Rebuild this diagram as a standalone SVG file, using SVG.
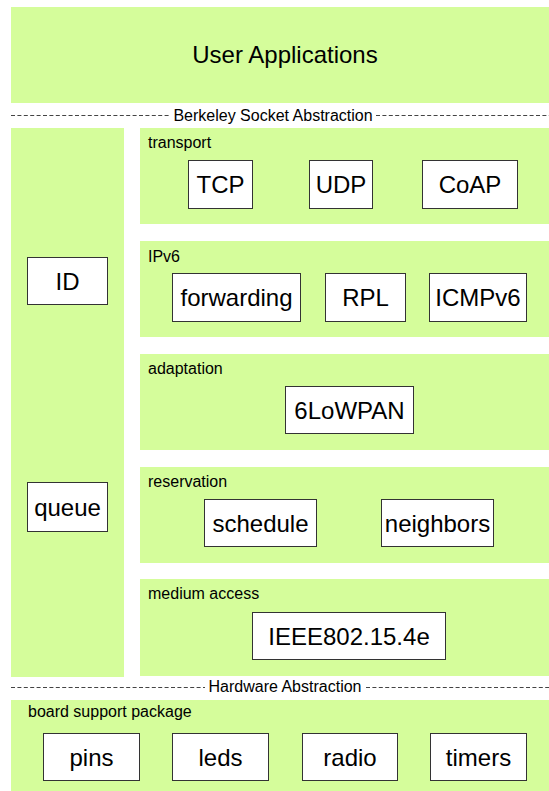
<svg xmlns="http://www.w3.org/2000/svg" width="549" height="791" viewBox="0 0 549 791">
<style>
.panel{fill:#d5fd9b;stroke:none}
.box{fill:#ffffff;stroke:#333333;stroke-width:1}
.bt{font-family:"Liberation Sans",Arial,sans-serif;font-size:24px;fill:#000;text-anchor:middle}
.lbl{font-family:"Liberation Sans",Arial,sans-serif;font-size:16px;fill:#000}
.dash{stroke:#444444;stroke-width:1;stroke-dasharray:4,2.4;fill:none}
.sep{font-family:"Liberation Sans",Arial,sans-serif;font-size:16px;fill:#000;text-anchor:middle}
</style>
<rect x="0" y="0" width="549" height="791" fill="#ffffff"/>
<g id="apps"><rect class="panel" x="11" y="7" width="538" height="96"/><text class="bt" x="285" y="63">User Applications</text></g>
<g id="connectors">
<line class="dash" x1="11" y1="115.5" x2="170" y2="115.5"/>
<line class="dash" x1="376" y1="115.5" x2="549" y2="115.5"/>
<line class="dash" x1="11" y1="687.5" x2="205" y2="687.5"/>
<line class="dash" x1="366" y1="687.5" x2="549" y2="687.5"/>
</g>
<g id="berkeley"><text class="sep" x="273" y="121">Berkeley Socket Abstraction</text></g>
<g id="hardware"><text class="sep" x="285" y="692">Hardware Abstraction</text></g>
<g id="leftcol"><rect class="panel" x="11" y="128" width="113" height="549"/></g>
<g id="id"><rect class="box" x="27.5" y="257.5" width="80" height="47"/><text class="bt" x="67.5" y="289.5">ID</text></g>
<g id="queue"><rect class="box" x="27.5" y="482.5" width="80" height="49"/><text class="bt" x="67.5" y="515.5">queue</text></g>
<g id="transport"><rect class="panel" x="140" y="128" width="409" height="96"/><text class="lbl" x="148" y="148">transport</text></g>
<g id="tcp"><rect class="box" x="188.5" y="160.5" width="64" height="48"/><text class="bt" x="220.5" y="193">TCP</text></g>
<g id="udp"><rect class="box" x="309.5" y="160.5" width="63" height="48"/><text class="bt" x="341" y="193">UDP</text></g>
<g id="coap"><rect class="box" x="422.5" y="160.5" width="95" height="48"/><text class="bt" x="470" y="193">CoAP</text></g>
<g id="ipv6"><rect class="panel" x="140" y="241" width="409" height="96"/><text class="lbl" x="148" y="262">IPv6</text></g>
<g id="forwarding"><rect class="box" x="172.5" y="273.5" width="128" height="48"/><text class="bt" x="236.5" y="306">forwarding</text></g>
<g id="rpl"><rect class="box" x="325.5" y="273.5" width="80" height="48"/><text class="bt" x="365.5" y="306">RPL</text></g>
<g id="icmpv6"><rect class="box" x="429.5" y="273.5" width="97" height="48"/><text class="bt" x="478" y="306">ICMPv6</text></g>
<g id="adaptation"><rect class="panel" x="140" y="354" width="409" height="96"/><text class="lbl" x="148" y="374">adaptation</text></g>
<g id="sixlowpan"><rect class="box" x="285.5" y="386.5" width="128" height="47"/><text class="bt" x="349.5" y="418.5">6LoWPAN</text></g>
<g id="reservation"><rect class="panel" x="140" y="467" width="409" height="96"/><text class="lbl" x="148" y="487">reservation</text></g>
<g id="schedule"><rect class="box" x="204.5" y="499.5" width="112" height="47"/><text class="bt" x="260.5" y="531.5">schedule</text></g>
<g id="neighbors"><rect class="box" x="381.5" y="499.5" width="112" height="47"/><text class="bt" x="437.5" y="531.5">neighbors</text></g>
<g id="medium"><rect class="panel" x="140" y="579" width="409" height="97"/><text class="lbl" x="148" y="599">medium access</text></g>
<g id="ieee"><rect class="box" x="252.5" y="612.5" width="193" height="47"/><text class="bt" x="349" y="644.5">IEEE802.15.4e</text></g>
<g id="bsp"><rect class="panel" x="11" y="700" width="538" height="91"/><text class="lbl" x="28" y="717">board support package</text></g>
<g id="pins"><rect class="box" x="43.5" y="733.5" width="96" height="47"/><text class="bt" x="91.5" y="765.5">pins</text></g>
<g id="leds"><rect class="box" x="172.5" y="733.5" width="96" height="47"/><text class="bt" x="220.5" y="765.5">leds</text></g>
<g id="radio"><rect class="box" x="302.5" y="733.5" width="95" height="47"/><text class="bt" x="350" y="765.5">radio</text></g>
<g id="timers"><rect class="box" x="430.5" y="733.5" width="96" height="47"/><text class="bt" x="478.5" y="765.5">timers</text></g>
</svg>
